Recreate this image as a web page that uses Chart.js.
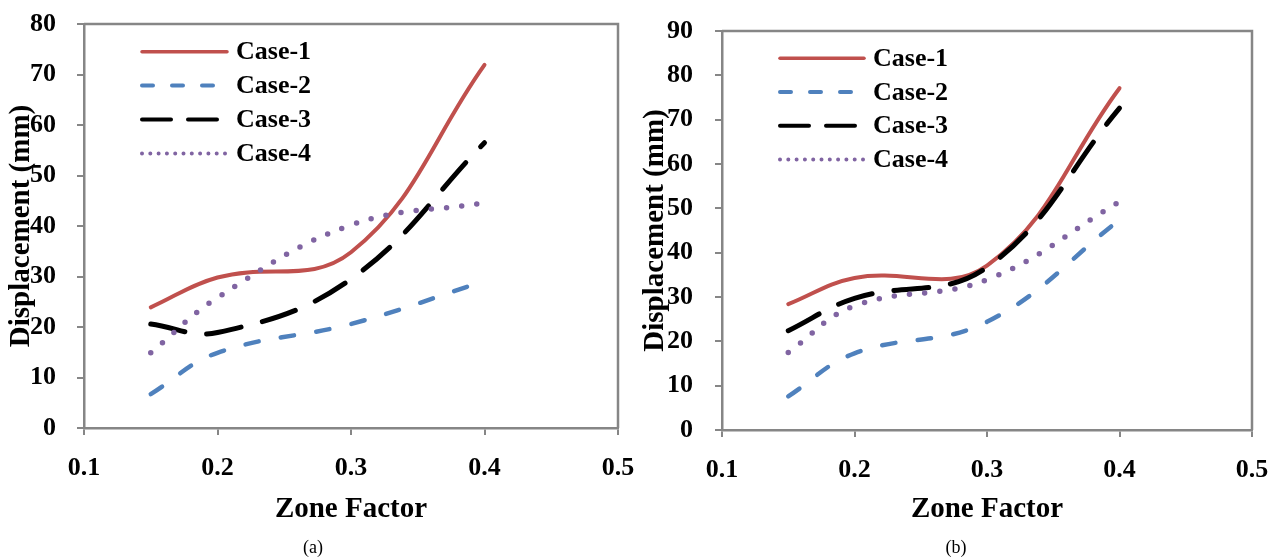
<!DOCTYPE html>
<html>
<head>
<meta charset="utf-8">
<script src="https://cdn.jsdelivr.net/npm/chart.js@4.4.1/dist/chart.umd.min.js"></script>
<style>
  html, body { margin: 0; padding: 0; background: #fff; }
  body { width: 1274px; height: 560px; position: relative; overflow: hidden; }
  canvas { position: absolute; top: 0; }
  .cap { position: absolute; top: 537px; font: 18px 'Liberation Serif', 'Times New Roman', serif; color: #000; transform: translateX(-50%); }
</style>
</head>
<body>
<canvas id="chartA" width="637" height="560" style="left:0px"></canvas>
<canvas id="chartB" width="638" height="560" style="left:636px"></canvas>
<div class="cap" style="left:313px">(a)</div>
<div class="cap" style="left:956px">(b)</div>
<script>
// ---------- data ----------
const zoneFactors = [0.15, 0.2, 0.3, 0.4];
const seriesNames = ['Case-1', 'Case-2', 'Case-3', 'Case-4'];
const xTickLabels = ['0.1', '0.2', '0.3', '0.4', '0.5'];
const yTicksA = [0, 10, 20, 30, 40, 50, 60, 70, 80];
const yTicksB = [0, 10, 20, 30, 40, 50, 60, 70, 80, 90];

const case1A = [23.9, 29.8, 34.8, 71.9];
const case2A = [6.7, 14.9, 20.6, 29.1];
const case3A = [20.6, 18.9, 29.5, 56.5];
const case4A = [14.9, 25.8, 40.2, 44.6];

const case1B = [28.4, 34.3, 37.1, 77.1];
const case2B = [7.6, 17.3, 24.4, 47.4];
const case3B = [22.4, 29.7, 36.7, 72.6];
const case4B = [17.5, 28.0, 33.9, 51.5];

const xTitle = 'Zone Factor';
const yTitle = 'Displacement (mm)';

// ---------- styles ----------
const FONT = "'Liberation Serif', 'Times New Roman', serif";
const AXIS_GREY = '#868686';
const styles = [
  { color: '#C0504D', width: 4, dash: [], cap: 'round', lDash: [], lWidth: 3.5 },
  { color: '#4F81BD', width: 4.5, dash: [13.5, 22.5], cap: 'round', lDash: [11, 19], lWidth: 4 },
  { color: '#000000', width: 5, dash: [35, 22], cap: 'round', lDash: [29, 17], lWidth: 4 },
  { color: '#8064A2', width: 5.5, dash: [0, 15.3], cap: 'round', lDash: [0, 8.3], lWidth: 4 }
];

function toPoints(vals) { return zoneFactors.map((x, i) => ({ x: x, y: vals[i] })); }

const framePlugin = {
  id: 'frame',
  beforeDatasetsDraw(chart) {
    const { ctx, chartArea: a } = chart;
    ctx.save();
    ctx.strokeStyle = AXIS_GREY;
    ctx.lineWidth = 2.5;
    ctx.beginPath();
    ctx.moveTo(a.left, a.top);
    ctx.lineTo(a.right, a.top);
    ctx.lineTo(a.right, a.bottom);
    ctx.stroke();
    ctx.restore();
  }
};

const legendPlugin = {
  id: 'inlegend',
  afterDatasetsDraw(chart, args, opts) {
    const ctx = chart.ctx;
    chart.data.datasets.forEach((d, i) => {
      const st = styles[i];
      const y = opts.y0 + i * opts.dy;
      ctx.save();
      ctx.strokeStyle = d.borderColor;
      ctx.lineWidth = st.lWidth;
      ctx.lineCap = st.cap;
      ctx.setLineDash(st.lDash);
      ctx.beginPath();
      ctx.moveTo(opts.x1, y);
      ctx.lineTo(opts.x2, y);
      ctx.stroke();
      ctx.setLineDash([]);
      ctx.fillStyle = '#000';
      ctx.font = 'bold 26px ' + FONT;
      ctx.textBaseline = 'middle';
      ctx.textAlign = 'left';
      ctx.fillText(d.label, opts.tx, y + 1);
      ctx.restore();
    });
  }
};

function makeChart(id, series, yTicks, cfg) {
  const datasets = series.map((vals, i) => ({
    label: seriesNames[i],
    data: toPoints(vals),
    borderColor: styles[i].color,
    backgroundColor: styles[i].color,
    borderWidth: styles[i].width,
    borderDash: styles[i].dash,
    borderCapStyle: styles[i].cap,
    pointRadius: 0,
    tension: 0.4,
    fill: false,
    order: 3 - i
  }));
  const layoutPadding = { top: cfg.areaTop, right: cfg.width - cfg.areaRight, left: 0, bottom: 0 };
  const chart = new Chart(document.getElementById(id), {
    type: 'line',
    data: { datasets },
    options: {
      responsive: false,
      animation: false,
      devicePixelRatio: 1,
      layout: { padding: layoutPadding },
      plugins: {
        legend: { display: false },
        tooltip: { enabled: false },
        inlegend: cfg.legend
      },
      scales: {
        x: {
          type: 'linear',
          min: 0.1, max: 0.5,
          ticks: {
            stepSize: 0.1,
            padding: cfg.xTickPad,
            color: '#000',
            font: { family: FONT, size: 26, weight: 'bold' },
            callback: (v) => xTickLabels[Math.round((v - 0.1) / 0.1)]
          },
          grid: { drawOnChartArea: false, drawTicks: true, tickLength: 7, color: AXIS_GREY, lineWidth: 2 },
          border: { display: true, color: AXIS_GREY, width: 2.5 },
          title: {
            display: true, text: xTitle, color: '#000',
            font: { family: FONT, size: 29, weight: 'bold' },
            padding: { top: 0, bottom: 33 }
          },
          afterFit: (s) => { s.height = cfg.xHeight; s.paddingLeft = 0; s.paddingRight = 0; }
        },
        y: {
          min: yTicks[0], max: yTicks[yTicks.length - 1],
          ticks: {
            stepSize: 10,
            padding: cfg.yTickPad,
            color: '#000',
            font: { family: FONT, size: 26, weight: 'bold' },
            callback: (v) => String(yTicks[yTicks.indexOf(v)] ?? v)
          },
          grid: { drawOnChartArea: false, drawTicks: true, tickLength: 7, color: AXIS_GREY, lineWidth: 2 },
          border: { display: true, color: AXIS_GREY, width: 2.5 },
          title: {
            display: true, text: yTitle, color: '#000',
            font: { family: FONT, size: 29, weight: 'bold' },
            padding: { top: cfg.yTitlePad, bottom: 0 }
          },
          afterFit: (s) => { s.width = cfg.yWidth; s.paddingTop = 0; s.paddingBottom = 0; }
        }
      }
    },
    plugins: [framePlugin, legendPlugin]
  });
  // calibrate layout padding so the plot frame lands where the reference has it
  for (let k = 0; k < 4; k++) {
    const a = chart.chartArea;
    const dTop = cfg.areaTop - a.top;
    const dRight = a.right - cfg.areaRight;
    if (Math.abs(dTop) < 0.5 && Math.abs(dRight) < 0.5) break;
    layoutPadding.top = Math.max(0, layoutPadding.top + dTop);
    layoutPadding.right = Math.max(0, layoutPadding.right + dRight);
    chart.config.options.layout.padding = Object.assign({}, layoutPadding);
    chart.update();
  }
  return chart;
}

makeChart('chartA', [case1A, case2A, case3A, case4A], yTicksA, {
  width: 637, areaTop: 24, areaRight: 618,
  xHeight: 132, yWidth: 84, xTickPad: 18, yTickPad: 21, yTitlePad: 4,
  legend: { x1: 142, x2: 227, tx: 236, y0: 51.7, dy: 33.9 }
});
makeChart('chartB', [case1B, case2B, case3B, case4B], yTicksB, {
  width: 638, areaTop: 31, areaRight: 616,
  xHeight: 130, yWidth: 86, xTickPad: 18, yTickPad: 22, yTitlePad: 2,
  legend: { x1: 144, x2: 228, tx: 237, y0: 58.3, dy: 33.7 }
});
</script>
</body>
</html>
